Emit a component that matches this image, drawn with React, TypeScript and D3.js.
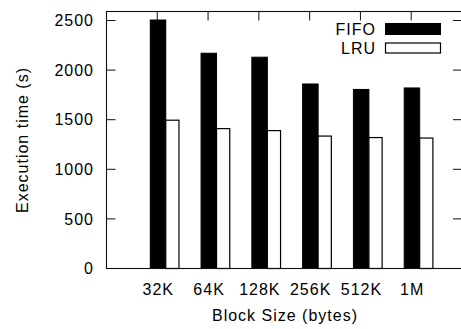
import React from "react";
import * as d3 from "d3";

const categories = ["32K", "64K", "128K", "256K", "512K", "1M"];
const fifoValues = [2505, 2170, 2130, 1860, 1805, 1820];
const lruValues = [1495, 1410, 1390, 1335, 1320, 1315];
const yTicks = [0, 500, 1000, 1500, 2000, 2500];
const seriesNames = ["FIFO", "LRU"];

const W = 461;
const H = 329;
const FONT = "'Liberation Sans', Arial, Helvetica, sans-serif";

export default function App() {
  const left = 106.5;
  const right = 462;
  const top = 11.5;
  const bottom = 268.5;

  // Gnuplot-like layout: categories at integer x, range [-1, n]
  const x = d3.scaleLinear().domain([-1, categories.length]).range([left, right]);
  const y = d3.scaleLinear().domain([0, 2500]).range([bottom, 20.5]);

  const fifoOff: [number, number] = [-0.138, 0.167];
  const lruOff: [number, number] = [0.167, 0.427];
  const tickLen = 9;
  const textStyle = { fontFamily: FONT, fontSize: 16, letterSpacing: 1 } as const;

  return (
    <svg
      width={W}
      height={H}
      style={{ position: "absolute", left: 0, top: 0, background: "#fff" }}
    >
      {/* y ticks, mirrored on both sides */}
      {yTicks.map((t) => (
        <g key={"y" + t}>
          <line x1={left} x2={left + tickLen} y1={y(t)} y2={y(t)} stroke="#111" strokeWidth={1} />
          <line x1={right} x2={right - tickLen} y1={y(t)} y2={y(t)} stroke="#111" strokeWidth={1} />
          <text x={94} y={y(t)} dy="0.36em" textAnchor="end" {...textStyle}>
            {t}
          </text>
        </g>
      ))}

      {/* x ticks, mirrored top and bottom */}
      {categories.map((c, i) => (
        <g key={"x" + c}>
          <line x1={x(i)} x2={x(i)} y1={top} y2={top + tickLen} stroke="#111" strokeWidth={1} />
          <line x1={x(i)} x2={x(i)} y1={bottom} y2={bottom - tickLen} stroke="#111" strokeWidth={1} />
          <text x={x(i) + 1} y={295} textAnchor="middle" {...textStyle}>
            {c}
          </text>
        </g>
      ))}

      {/* bars */}
      {categories.map((c, i) => (
        <g key={"b" + c}>
          <rect
            x={x(i + fifoOff[0])}
            y={y(fifoValues[i])}
            width={x(i + fifoOff[1]) - x(i + fifoOff[0])}
            height={y(0) - y(fifoValues[i])}
            fill="#000"
            stroke="#000"
            strokeWidth={1}
          />
          <rect
            x={x(i + lruOff[0])}
            y={y(lruValues[i])}
            width={x(i + lruOff[1]) - x(i + lruOff[0])}
            height={y(0) - y(lruValues[i])}
            fill="#fff"
            stroke="#000"
            strokeWidth={1.2}
          />
        </g>
      ))}

      {/* frame */}
      <rect
        x={left}
        y={top}
        width={right - left}
        height={bottom - top}
        fill="none"
        stroke="#111"
        strokeWidth={1.1}
      />

      {/* legend */}
      <text x={376} y={34.5} textAnchor="end" {...textStyle}>
        {seriesNames[0]}
      </text>
      <rect x={385.5} y={23.5} width={55} height={11} fill="#000" stroke="#000" strokeWidth={1} />
      <text x={376} y={54} textAnchor="end" {...textStyle}>
        {seriesNames[1]}
      </text>
      <rect x={385.5} y={43} width={55} height={10} fill="#fff" stroke="#000" strokeWidth={1.2} />

      {/* axis titles */}
      <text x={285} y={321} textAnchor="middle" {...textStyle}>
        Block Size (bytes)
      </text>
      <text
        transform={`translate(28,140) rotate(-90)`}
        textAnchor="middle"
        {...textStyle}
      >
        Execution time (s)
      </text>
    </svg>
  );
}
